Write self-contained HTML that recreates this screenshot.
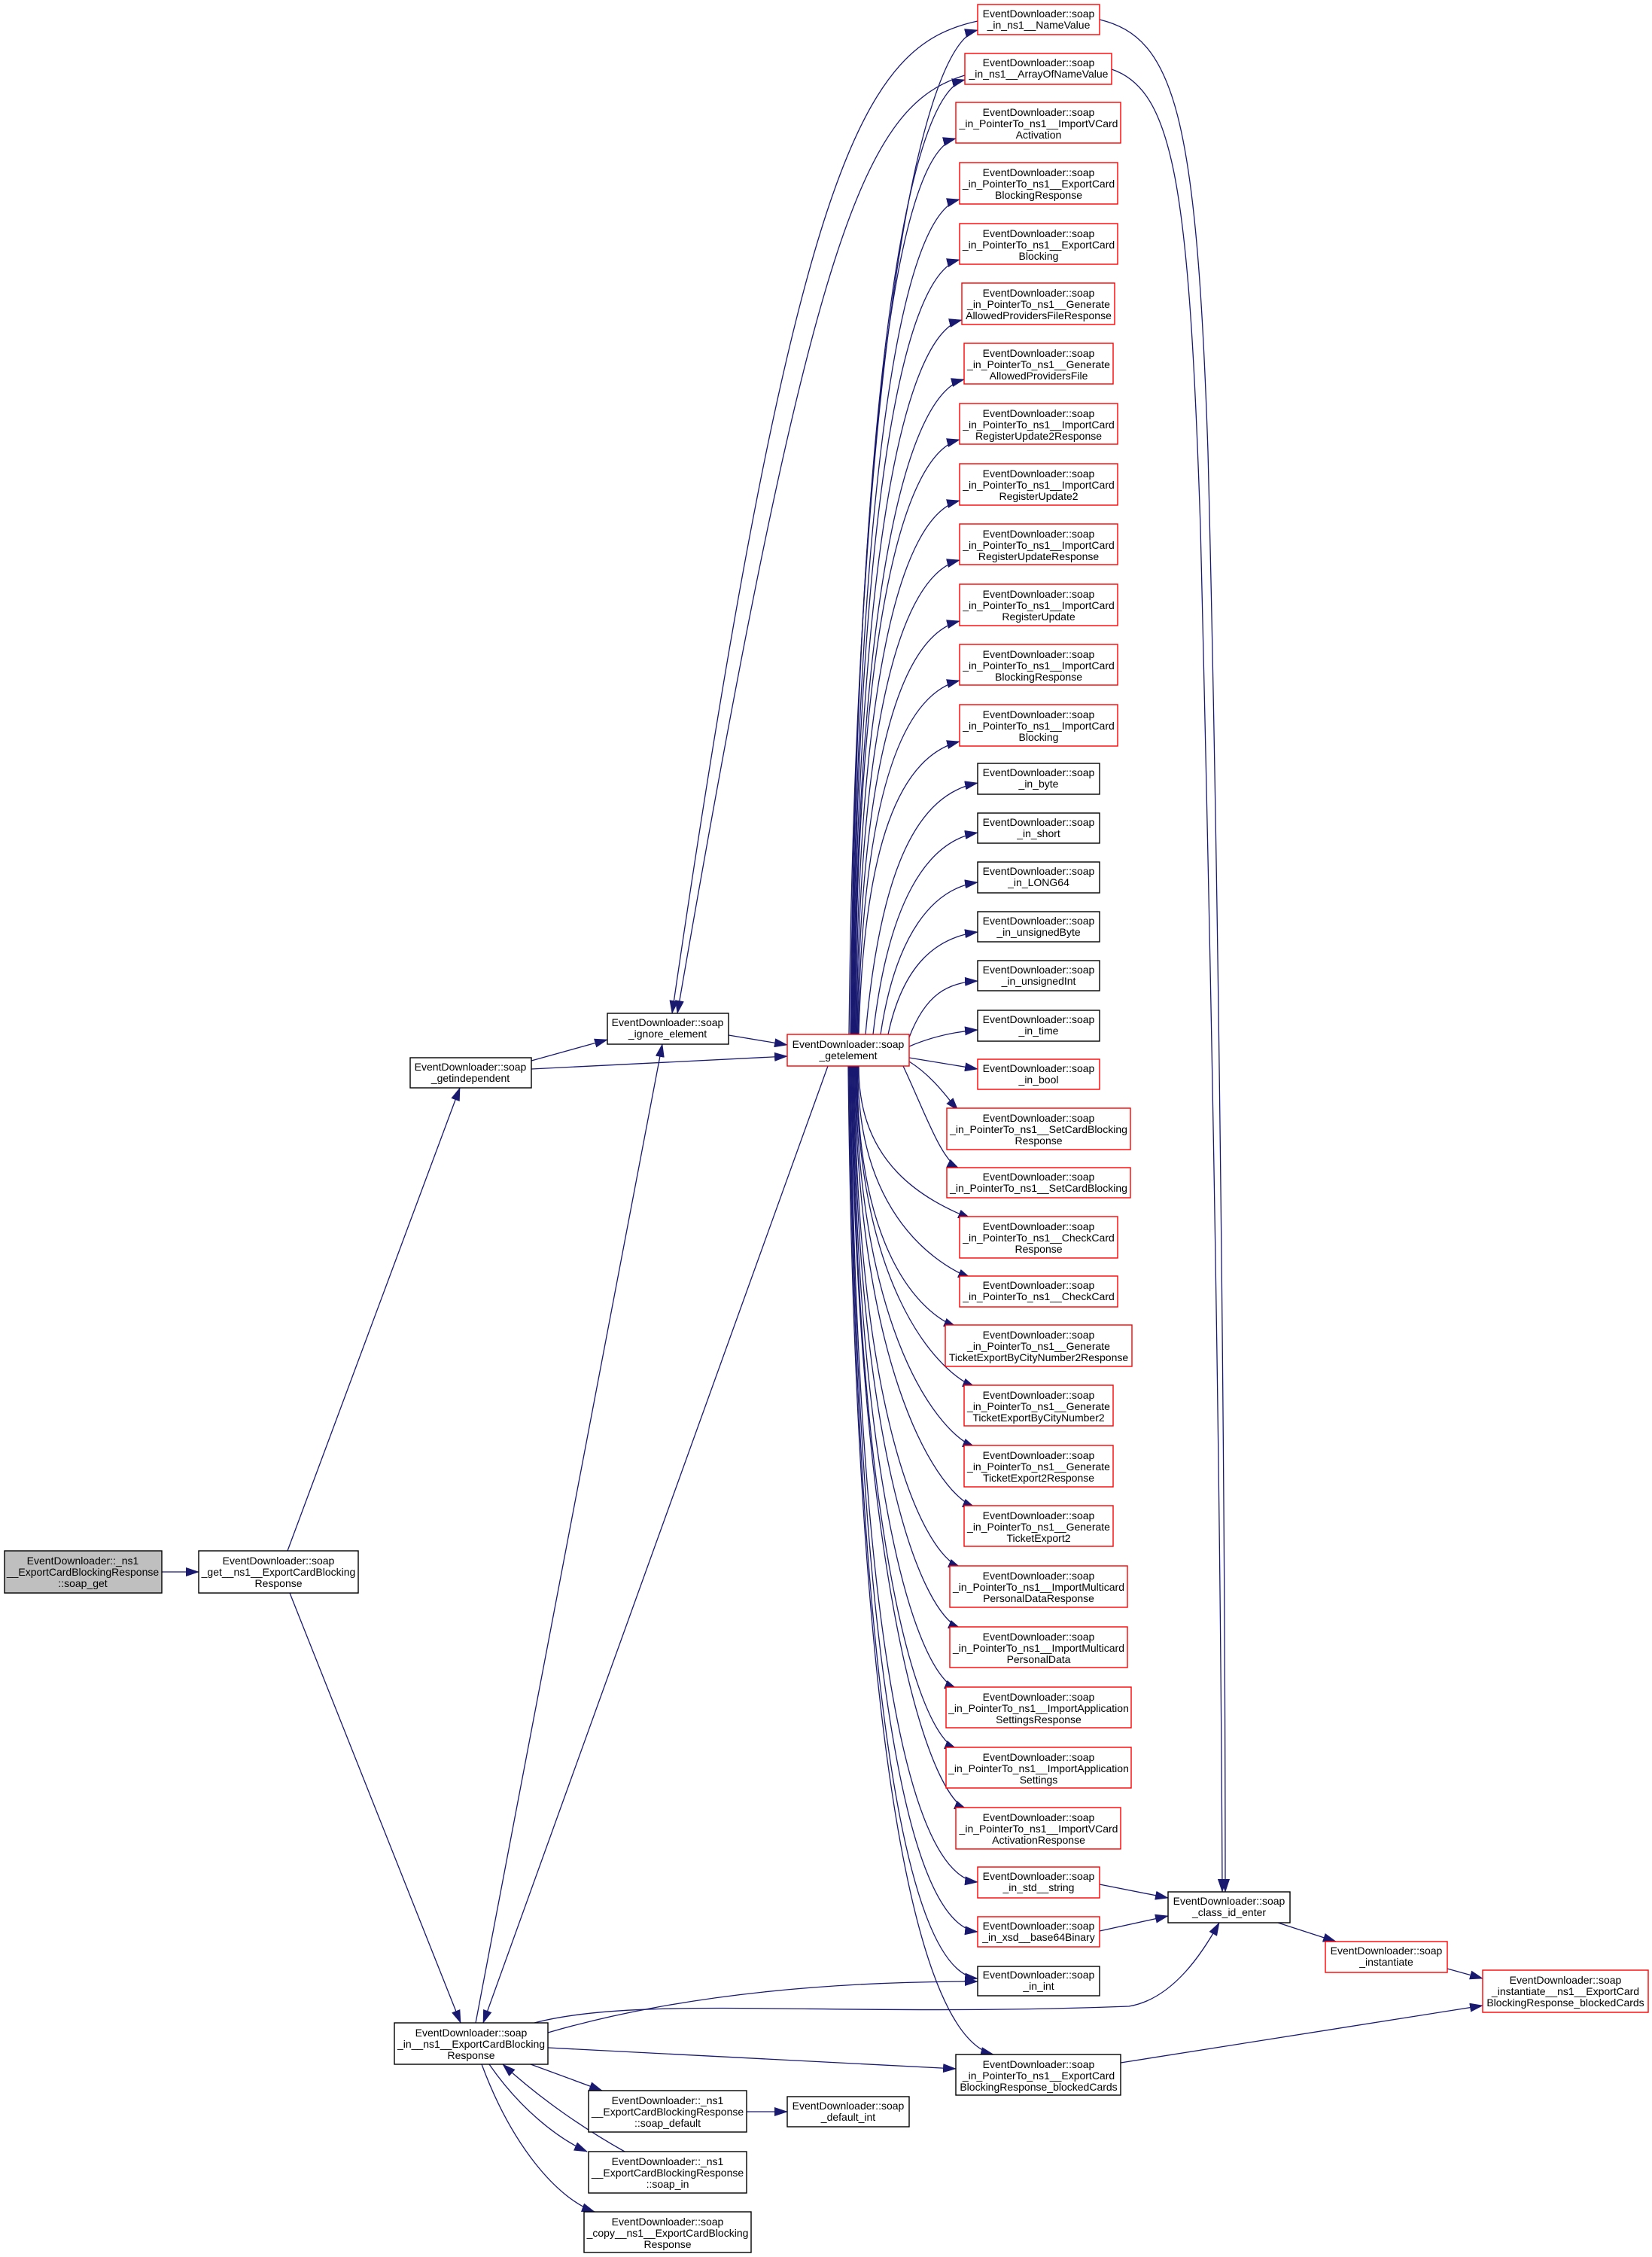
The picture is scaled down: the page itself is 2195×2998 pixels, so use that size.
<!DOCTYPE html>
<html><head><meta charset="utf-8"><style>
html,body{margin:0;padding:0;background:#fff}
svg{display:block}
text{font-family:"Liberation Sans",Arial,sans-serif;font-size:14px;fill:#000;text-anchor:middle}
.e{fill:none;stroke:#191970;stroke-width:1.3;marker-end:url(#a)}
.r{fill:#fff;stroke:#ff0000;stroke-width:1.4}
.b{fill:#fff;stroke:#000;stroke-width:1.4}
.g{fill:#bfbfbf;stroke:#000;stroke-width:1.4}
</style></head><body>
<svg width="2195" height="2998" viewBox="0 0 2195 2998" xmlns="http://www.w3.org/2000/svg">
<defs><marker id="a" markerUnits="userSpaceOnUse" markerWidth="18" markerHeight="12" refX="17" refY="6" orient="auto"><path d="M0,0 L18,6 L0,12 z" fill="#191970"/></marker></defs>
<g>
<path class="e" d="M215,2088 L264,2088"/>
<path class="e" d="M382,2060 L611,1445"/>
<path class="e" d="M385,2116 L612,2687"/>
<path class="e" d="M706,1409 L807,1381"/>
<path class="e" d="M706,1420 L1046,1403"/>
<path class="e" d="M968,1375 L1046,1388"/>
<path class="e" d="M1299,28 C1150,60 1060,200 893,1346"/>
<path class="e" d="M1282,100 C1150,140 1080,300 900,1346"/>
<path class="e" d="M632,2687 L880,1387"/>
<path class="e" d="M1100,1416 L642,2687"/>
<path class="e" d="M728,2700 C900,2650 1100,2632 1299,2632"/>
<path class="e" d="M710,2687 C850,2650 1100,2680 1500,2665 C1560,2655 1600,2590 1620,2554"/>
<path class="e" d="M728,2720 L1270,2748"/>
<path class="e" d="M705,2742 L800,2777"/>
<path class="e" d="M650,2742 C690,2800 740,2840 780,2858"/>
<path class="e" d="M830,2858 C780,2830 720,2790 668,2742"/>
<path class="e" d="M640,2742 C680,2850 740,2920 790,2938"/>
<path class="e" d="M992,2805 L1046,2805"/>
<path class="e" d="M1461,26 C1560,50 1590,150 1605,600 C1620,1200 1628,2000 1628,2513"/>
<path class="e" d="M1477,92 C1560,120 1580,250 1595,700 C1612,1400 1622,2000 1624,2513"/>
<path class="e" d="M1461,2503 L1552,2521"/>
<path class="e" d="M1461,2565 L1552,2545"/>
<path class="e" d="M1698,2554 L1775,2579"/>
<path class="e" d="M1923,2615 L1970,2628"/>
<path class="e" d="M1489,2740 L1970,2664"/>
<path class="e" d="M1128,1374 C1138,507 1219,60 1299,40"/>
<path class="e" d="M1130,1374 C1138,550 1202,126 1282,106"/>
<path class="e" d="M1131,1374 C1138,600 1190,204 1270,184"/>
<path class="e" d="M1132,1374 C1138,653 1195,285 1275,265"/>
<path class="e" d="M1133,1374 C1138,705 1195,365 1275,345"/>
<path class="e" d="M1134,1374 C1138,757 1198,445 1278,425"/>
<path class="e" d="M1135,1374 C1138,808 1201,524 1281,504"/>
<path class="e" d="M1136,1374 C1138,860 1195,604 1275,584"/>
<path class="e" d="M1137,1374 C1140,912 1195,685 1275,665"/>
<path class="e" d="M1138,1374 C1142,964 1195,764 1275,744"/>
<path class="e" d="M1139,1374 C1144,1017 1195,845 1275,825"/>
<path class="e" d="M1140,1374 C1146,1068 1195,924 1275,904"/>
<path class="e" d="M1141,1374 C1148,1121 1195,1005 1275,985"/>
<path class="e" d="M1150,1374 C1170,1150 1220,1055 1299,1040"/>
<path class="e" d="M1160,1374 C1180,1200 1230,1118 1299,1106"/>
<path class="e" d="M1170,1374 C1190,1240 1240,1180 1299,1172"/>
<path class="e" d="M1180,1374 C1200,1280 1245,1245 1299,1238"/>
<path class="e" d="M1208,1378 C1230,1320 1260,1305 1299,1303"/>
<path class="e" d="M1208,1390 Q1250,1372 1299,1368"/>
<path class="e" d="M1208,1405 Q1250,1412 1299,1420"/>
<path class="e" d="M1208,1410 C1240,1430 1260,1460 1273,1475"/>
<path class="e" d="M1200,1416 C1230,1480 1250,1540 1275,1553"/>
<path class="e" d="M1141,1416 C1140,1548 1230,1594 1290,1619"/>
<path class="e" d="M1140,1416 C1138,1599 1230,1673 1290,1698"/>
<path class="e" d="M1139,1416 C1138,1642 1210,1738 1271,1763"/>
<path class="e" d="M1138,1416 C1138,1694 1236,1818 1296,1843"/>
<path class="e" d="M1137,1416 C1138,1746 1236,1898 1296,1923"/>
<path class="e" d="M1136,1416 C1138,1798 1236,1978 1296,2003"/>
<path class="e" d="M1135,1416 C1138,1850 1217,2058 1277,2083"/>
<path class="e" d="M1134,1416 C1138,1902 1217,2139 1277,2164"/>
<path class="e" d="M1133,1416 C1138,1954 1212,2219 1272,2244"/>
<path class="e" d="M1132,1416 C1138,2006 1212,2299 1272,2324"/>
<path class="e" d="M1131,1416 C1138,2058 1225,2379 1285,2404"/>
<path class="e" d="M1130,1416 C1138,2120 1200,2490 1299,2500"/>
<path class="e" d="M1129,1416 C1138,2170 1200,2556 1299,2566"/>
<path class="e" d="M1128,1416 C1138,2220 1200,2620 1299,2628"/>
<path class="e" d="M1127,1416 C1135,2200 1200,2700 1320,2729"/>
</g>
<g>
<rect class="g" x="6" y="2060" width="209" height="56"/><text x="110" y="2078">EventDownloader::_ns1</text><text x="110" y="2093">__ExportCardBlockingResponse</text><text x="110" y="2108">::soap_get</text>
<rect class="b" x="264" y="2060" width="212" height="56"/><text x="370" y="2078">EventDownloader::soap</text><text x="370" y="2093">_get__ns1__ExportCardBlocking</text><text x="370" y="2108">Response</text>
<rect class="b" x="545" y="1405" width="161" height="40"/><text x="625" y="1422">EventDownloader::soap</text><text x="625" y="1437">_getindependent</text>
<rect class="b" x="807" y="1346" width="161" height="41"/><text x="887" y="1363">EventDownloader::soap</text><text x="887" y="1378">_ignore_element</text>
<rect class="r" x="1046" y="1374" width="162" height="42"/><text x="1127" y="1392">EventDownloader::soap</text><text x="1127" y="1407">_getelement</text>
<rect class="b" x="524" y="2687" width="204" height="55"/><text x="626" y="2705">EventDownloader::soap</text><text x="626" y="2720">_in__ns1__ExportCardBlocking</text><text x="626" y="2735">Response</text>
<rect class="b" x="782" y="2777" width="210" height="55"/><text x="887" y="2795">EventDownloader::_ns1</text><text x="887" y="2810">__ExportCardBlockingResponse</text><text x="887" y="2825">::soap_default</text>
<rect class="b" x="1046" y="2785" width="162" height="40"/><text x="1127" y="2802">EventDownloader::soap</text><text x="1127" y="2817">_default_int</text>
<rect class="b" x="782" y="2858" width="210" height="55"/><text x="887" y="2876">EventDownloader::_ns1</text><text x="887" y="2891">__ExportCardBlockingResponse</text><text x="887" y="2906">::soap_in</text>
<rect class="b" x="776" y="2938" width="222" height="54"/><text x="887" y="2956">EventDownloader::soap</text><text x="887" y="2971">_copy__ns1__ExportCardBlocking</text><text x="887" y="2986">Response</text>
<rect class="b" x="1552" y="2513" width="162" height="41"/><text x="1633" y="2530">EventDownloader::soap</text><text x="1633" y="2545">_class_id_enter</text>
<rect class="r" x="1761" y="2579" width="162" height="41"/><text x="1842" y="2596">EventDownloader::soap</text><text x="1842" y="2611">_instantiate</text>
<rect class="r" x="1970" y="2617" width="220" height="56"/><text x="2080" y="2635">EventDownloader::soap</text><text x="2080" y="2650">_instantiate__ns1__ExportCard</text><text x="2080" y="2665">BlockingResponse_blockedCards</text>

<rect class="r" x="1299" y="6" width="162" height="40"/><text x="1380" y="23">EventDownloader::soap</text><text x="1380" y="38">_in_ns1__NameValue</text>
<rect class="r" x="1282" y="71" width="195" height="41"/><text x="1380" y="88">EventDownloader::soap</text><text x="1380" y="103">_in_ns1__ArrayOfNameValue</text>
<rect class="r" x="1270" y="136" width="219" height="54"/><text x="1380" y="154">EventDownloader::soap</text><text x="1380" y="169">_in_PointerTo_ns1__ImportVCard</text><text x="1380" y="184">Activation</text>
<rect class="r" x="1275" y="216" width="210" height="55"/><text x="1380" y="234">EventDownloader::soap</text><text x="1380" y="249">_in_PointerTo_ns1__ExportCard</text><text x="1380" y="264">BlockingResponse</text>
<rect class="r" x="1275" y="297" width="210" height="54"/><text x="1380" y="315">EventDownloader::soap</text><text x="1380" y="330">_in_PointerTo_ns1__ExportCard</text><text x="1380" y="345">Blocking</text>
<rect class="r" x="1278" y="376" width="203" height="55"/><text x="1380" y="394">EventDownloader::soap</text><text x="1380" y="409">_in_PointerTo_ns1__Generate</text><text x="1380" y="424">AllowedProvidersFileResponse</text>
<rect class="r" x="1281" y="456" width="198" height="54"/><text x="1380" y="474">EventDownloader::soap</text><text x="1380" y="489">_in_PointerTo_ns1__Generate</text><text x="1380" y="504">AllowedProvidersFile</text>
<rect class="r" x="1275" y="536" width="210" height="54"/><text x="1380" y="554">EventDownloader::soap</text><text x="1380" y="569">_in_PointerTo_ns1__ImportCard</text><text x="1380" y="584">RegisterUpdate2Response</text>
<rect class="r" x="1275" y="616" width="210" height="55"/><text x="1380" y="634">EventDownloader::soap</text><text x="1380" y="649">_in_PointerTo_ns1__ImportCard</text><text x="1380" y="664">RegisterUpdate2</text>
<rect class="r" x="1275" y="696" width="210" height="54"/><text x="1380" y="714">EventDownloader::soap</text><text x="1380" y="729">_in_PointerTo_ns1__ImportCard</text><text x="1380" y="744">RegisterUpdateResponse</text>
<rect class="r" x="1275" y="776" width="210" height="55"/><text x="1380" y="794">EventDownloader::soap</text><text x="1380" y="809">_in_PointerTo_ns1__ImportCard</text><text x="1380" y="824">RegisterUpdate</text>
<rect class="r" x="1275" y="856" width="210" height="54"/><text x="1380" y="874">EventDownloader::soap</text><text x="1380" y="889">_in_PointerTo_ns1__ImportCard</text><text x="1380" y="904">BlockingResponse</text>
<rect class="r" x="1275" y="936" width="210" height="55"/><text x="1380" y="954">EventDownloader::soap</text><text x="1380" y="969">_in_PointerTo_ns1__ImportCard</text><text x="1380" y="984">Blocking</text>
<rect class="b" x="1299" y="1014" width="162" height="41"/><text x="1380" y="1031">EventDownloader::soap</text><text x="1380" y="1046">_in_byte</text>
<rect class="b" x="1299" y="1080" width="162" height="40"/><text x="1380" y="1097">EventDownloader::soap</text><text x="1380" y="1112">_in_short</text>
<rect class="b" x="1299" y="1145" width="162" height="41"/><text x="1380" y="1162">EventDownloader::soap</text><text x="1380" y="1177">_in_LONG64</text>
<rect class="b" x="1299" y="1211" width="162" height="40"/><text x="1380" y="1228">EventDownloader::soap</text><text x="1380" y="1243">_in_unsignedByte</text>
<rect class="b" x="1299" y="1276" width="162" height="40"/><text x="1380" y="1293">EventDownloader::soap</text><text x="1380" y="1308">_in_unsignedInt</text>
<rect class="b" x="1299" y="1342" width="162" height="41"/><text x="1380" y="1359">EventDownloader::soap</text><text x="1380" y="1374">_in_time</text>
<rect class="r" x="1299" y="1407" width="162" height="40"/><text x="1380" y="1424">EventDownloader::soap</text><text x="1380" y="1439">_in_bool</text>
<rect class="r" x="1258" y="1472" width="244" height="55"/><text x="1380" y="1490">EventDownloader::soap</text><text x="1380" y="1505">_in_PointerTo_ns1__SetCardBlocking</text><text x="1380" y="1520">Response</text>
<rect class="r" x="1258" y="1551" width="244" height="40"/><text x="1380" y="1568">EventDownloader::soap</text><text x="1380" y="1583">_in_PointerTo_ns1__SetCardBlocking</text>
<rect class="r" x="1275" y="1616" width="210" height="55"/><text x="1380" y="1634">EventDownloader::soap</text><text x="1380" y="1649">_in_PointerTo_ns1__CheckCard</text><text x="1380" y="1664">Response</text>
<rect class="r" x="1275" y="1695" width="210" height="41"/><text x="1380" y="1712">EventDownloader::soap</text><text x="1380" y="1727">_in_PointerTo_ns1__CheckCard</text>
<rect class="r" x="1256" y="1760" width="248" height="55"/><text x="1380" y="1778">EventDownloader::soap</text><text x="1380" y="1793">_in_PointerTo_ns1__Generate</text><text x="1380" y="1808">TicketExportByCityNumber2Response</text>
<rect class="r" x="1281" y="1840" width="198" height="54"/><text x="1380" y="1858">EventDownloader::soap</text><text x="1380" y="1873">_in_PointerTo_ns1__Generate</text><text x="1380" y="1888">TicketExportByCityNumber2</text>
<rect class="r" x="1281" y="1920" width="198" height="55"/><text x="1380" y="1938">EventDownloader::soap</text><text x="1380" y="1953">_in_PointerTo_ns1__Generate</text><text x="1380" y="1968">TicketExport2Response</text>
<rect class="r" x="1281" y="2000" width="198" height="54"/><text x="1380" y="2018">EventDownloader::soap</text><text x="1380" y="2033">_in_PointerTo_ns1__Generate</text><text x="1380" y="2048">TicketExport2</text>
<rect class="r" x="1262" y="2080" width="236" height="55"/><text x="1380" y="2098">EventDownloader::soap</text><text x="1380" y="2113">_in_PointerTo_ns1__ImportMulticard</text><text x="1380" y="2128">PersonalDataResponse</text>
<rect class="r" x="1262" y="2161" width="236" height="54"/><text x="1380" y="2179">EventDownloader::soap</text><text x="1380" y="2194">_in_PointerTo_ns1__ImportMulticard</text><text x="1380" y="2209">PersonalData</text>
<rect class="r" x="1257" y="2241" width="246" height="54"/><text x="1380" y="2259">EventDownloader::soap</text><text x="1380" y="2274">_in_PointerTo_ns1__ImportApplication</text><text x="1380" y="2289">SettingsResponse</text>
<rect class="r" x="1257" y="2321" width="246" height="54"/><text x="1380" y="2339">EventDownloader::soap</text><text x="1380" y="2354">_in_PointerTo_ns1__ImportApplication</text><text x="1380" y="2369">Settings</text>
<rect class="r" x="1270" y="2401" width="219" height="55"/><text x="1380" y="2419">EventDownloader::soap</text><text x="1380" y="2434">_in_PointerTo_ns1__ImportVCard</text><text x="1380" y="2449">ActivationResponse</text>
<rect class="r" x="1299" y="2480" width="162" height="41"/><text x="1380" y="2497">EventDownloader::soap</text><text x="1380" y="2512">_in_std__string</text>
<rect class="r" x="1299" y="2546" width="162" height="40"/><text x="1380" y="2563">EventDownloader::soap</text><text x="1380" y="2578">_in_xsd__base64Binary</text>
<rect class="b" x="1299" y="2612" width="162" height="39"/><text x="1380" y="2628">EventDownloader::soap</text><text x="1380" y="2643">_in_int</text>
<rect class="b" x="1270" y="2729" width="219" height="54"/><text x="1380" y="2747">EventDownloader::soap</text><text x="1380" y="2762">_in_PointerTo_ns1__ExportCard</text><text x="1380" y="2777">BlockingResponse_blockedCards</text>
</g>
</svg>
</body></html>
